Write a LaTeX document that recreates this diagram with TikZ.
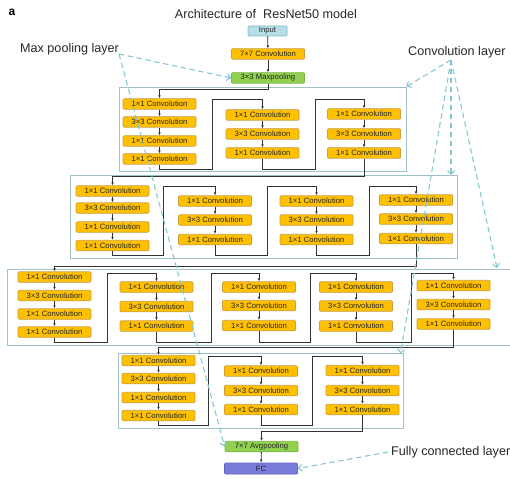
\documentclass[tikz,border=0pt]{standalone}
\usepackage{fontspec}
\setmainfont{Liberation Sans}
\usetikzlibrary{arrows.meta}
\definecolor{cvfill}{HTML}{FFC000}
\definecolor{cvline}{HTML}{C9A040}
\definecolor{grfill}{HTML}{92D050}
\definecolor{grline}{HTML}{7AB548}
\definecolor{infill}{HTML}{B7DEE8}
\definecolor{inline}{HTML}{86B7C4}
\definecolor{fcfill}{HTML}{7B7BDB}
\definecolor{fcline}{HTML}{6464C0}
\definecolor{stline}{HTML}{9EC2C7}
\definecolor{dline}{HTML}{86C8D2}
\definecolor{cline}{HTML}{333333}
\newcommand{\threeblk}[5]{%
  \node[cv] (#1a) at (#2,#3) {1×1 Convolution};
  \node[cv] (#1b) at (#2,#4) {3×3 Convolution};
  \node[cv] (#1c) at (#2,#5) {1×1 Convolution};
  \draw[ar] (#1a) -- (#1b);
  \draw[ar] (#1b) -- (#1c);}
\newcommand{\fourblk}[6]{%
  \node[cv] (#1a) at (#2,#3) {1×1 Convolution};
  \node[cv] (#1b) at (#2,#4) {3×3 Convolution};
  \node[cv] (#1c) at (#2,#5) {1×1 Convolution};
  \node[cv] (#1d) at (#2,#6) {1×1 Convolution};
  \draw[ar] (#1a) -- (#1b);
  \draw[ar] (#1b) -- (#1c);
  \draw[ar] (#1c) -- (#1d);}
\newcommand{\skipc}[5]{%
  \draw[ar] (#1.south) -- (#1.south |- 0,#3) -- (#4,#3) -- (#4,#5) -- (#2.north |- 0,#5) -- (#2.north);}
\begin{document}
\begin{tikzpicture}[x=1pt,y=-1pt,
  bx/.style={rectangle,rounded corners=1pt,inner sep=0pt,minimum width=73pt,minimum height=10.5pt,line width=0.7pt,font=\fontsize{7.7}{9}\selectfont,text=black!85},
  cv/.style={bx,fill=cvfill,draw=cvline},
  gr/.style={bx,fill=grfill,draw=grline},
  ar/.style={draw=cline,line width=0.8pt,-{Latex[length=3pt,width=2.6pt]}},
  stg/.style={draw=stline,line width=0.9pt,inner sep=0pt},
  dsh/.style={draw=dline,line width=1.1pt,dash pattern=on 5.5pt off 3.5pt,-{Straight Barb[length=3.5pt,width=7pt]}},
  lab/.style={font=\fontsize{12.6}{14}\selectfont,text=black!85,inner sep=0pt}]
\useasboundingbox (0,0) rectangle (510,478);
% titles
\node[font=\fontsize{12}{14}\selectfont\bfseries,inner sep=0pt] (tag) at (12,12) {a};
\node[lab] (title) at (266,14) {Architecture of \ ResNet50 model};
\node[lab,anchor=west] (mpl) at (20,49) {Max pooling layer};
\node[lab,anchor=west] (cvl) at (408,52) {Convolution layer};
\node[lab,anchor=west] (fcl) at (391,452) {Fully connected layer};
% stage boxes
\node[stg,minimum width=287pt,minimum height=84pt] (st1) at (262.5,129) {};
\node[stg,minimum width=387pt,minimum height=83pt] (st2) at (263.5,216.5) {};
\draw[stline,line width=0.9pt] (512,269) -- (7,269) -- (7,345) -- (512,345);
\node[stg,minimum width=285pt,minimum height=75pt] (st4) at (260.5,390.5) {};
% top chain
\node[bx,fill=infill,draw=inline,minimum width=39pt,minimum height=10pt] (inp) at (267.5,31) {Input};
\node[cv] (c7) at (268,54) {7×7 Convolution};
\node[gr] (mp) at (268,78) {3×3 Maxpooling};
\draw[ar] (inp) -- (c7);
\draw[ar] (c7) -- (mp);
% stage 1
\fourblk{sa}{159.5}{104}{122}{141}{159}
\threeblk{sb}{262.5}{115}{134}{153}
\threeblk{sc}{364}{114}{134}{153}
\draw[ar] (mp.south) -- (mp.south |- 0,89) -- (saa.north |- 0,89) -- (saa.north);
\skipc{sad}{sba}{169}{212}{99}
\skipc{sbc}{sca}{169}{315}{99}
% stage 2
\fourblk{ta}{112.5}{191}{208}{227}{245.5}
\threeblk{tb}{215}{201}{220}{239.5}
\threeblk{tc}{316.5}{201}{220}{239.5}
\threeblk{td}{416}{200}{219}{238.5}
\draw[ar] (scc.south) -- (scc.south |- 0,176) -- (taa.north |- 0,176) -- (taa.north);
\skipc{tad}{tba}{255}{163}{186}
\skipc{tbc}{tca}{255}{267}{186}
\skipc{tcc}{tda}{255}{369}{186}
% stage 3
\fourblk{ua}{54.5}{277}{295.5}{314}{332}
\threeblk{ub}{156.5}{287}{306.5}{326}
\threeblk{uc}{259}{287}{305.5}{325.5}
\threeblk{ud}{356}{287}{306}{326}
\threeblk{ue}{453.5}{285.5}{304.5}{324}
\draw[ar] (tdc.south) -- (tdc.south |- 0,266) -- (uaa.north |- 0,266) -- (uaa.north);
\skipc{uad}{uba}{342}{107}{273}
\skipc{ubc}{uca}{342}{211}{273}
\skipc{ucc}{uda}{342}{310}{273}
\skipc{udc}{uea}{342}{411}{273}
% stage 4
\fourblk{va}{158.5}{360.5}{378.5}{397.5}{415.5}
\threeblk{vb}{261}{371}{390.5}{409.5}
\threeblk{vc}{362.5}{370.5}{390.5}{409.5}
\draw[ar] (uec.south) -- (uec.south |- 0,347) -- (vaa.north |- 0,347) -- (vaa.north);
\skipc{vad}{vba}{425}{208}{356}
\skipc{vbc}{vca}{425}{312}{356}
% bottom
\node[gr] (avg) at (261.5,446.5) {7×7 Avgpooling};
\node[bx,fill=fcfill,draw=fcline,minimum height=11pt] (fc) at (261,468.5) {FC};
\draw[ar] (vcc.south) -- (vcc.south |- 0,431) -- (avg.north |- 0,431) -- (avg.north);
\draw[ar] (avg) -- (fc);
% dashed pointers
\coordinate (mps) at (119,54);
\coordinate (cvs) at (451,60);
\coordinate (fcs) at (388,452);
\coordinate (t2) at (451,175);
\coordinate (t3) at (497,268);
\draw[dsh] (mps) -- (mp.west);
\draw[dsh] (mps) -- (avg.west);
\draw[dsh] (cvs) -- (st1.north east);
\draw[dsh] (cvs) -- (t2);
\draw[dsh] (cvs) -- (t3);
\draw[dsh] (cvs) -- ([xshift=-3pt,yshift=-1pt]st4.north east);
\draw[dsh] (fcs) -- (fc.east);
\end{tikzpicture}
\end{document}
